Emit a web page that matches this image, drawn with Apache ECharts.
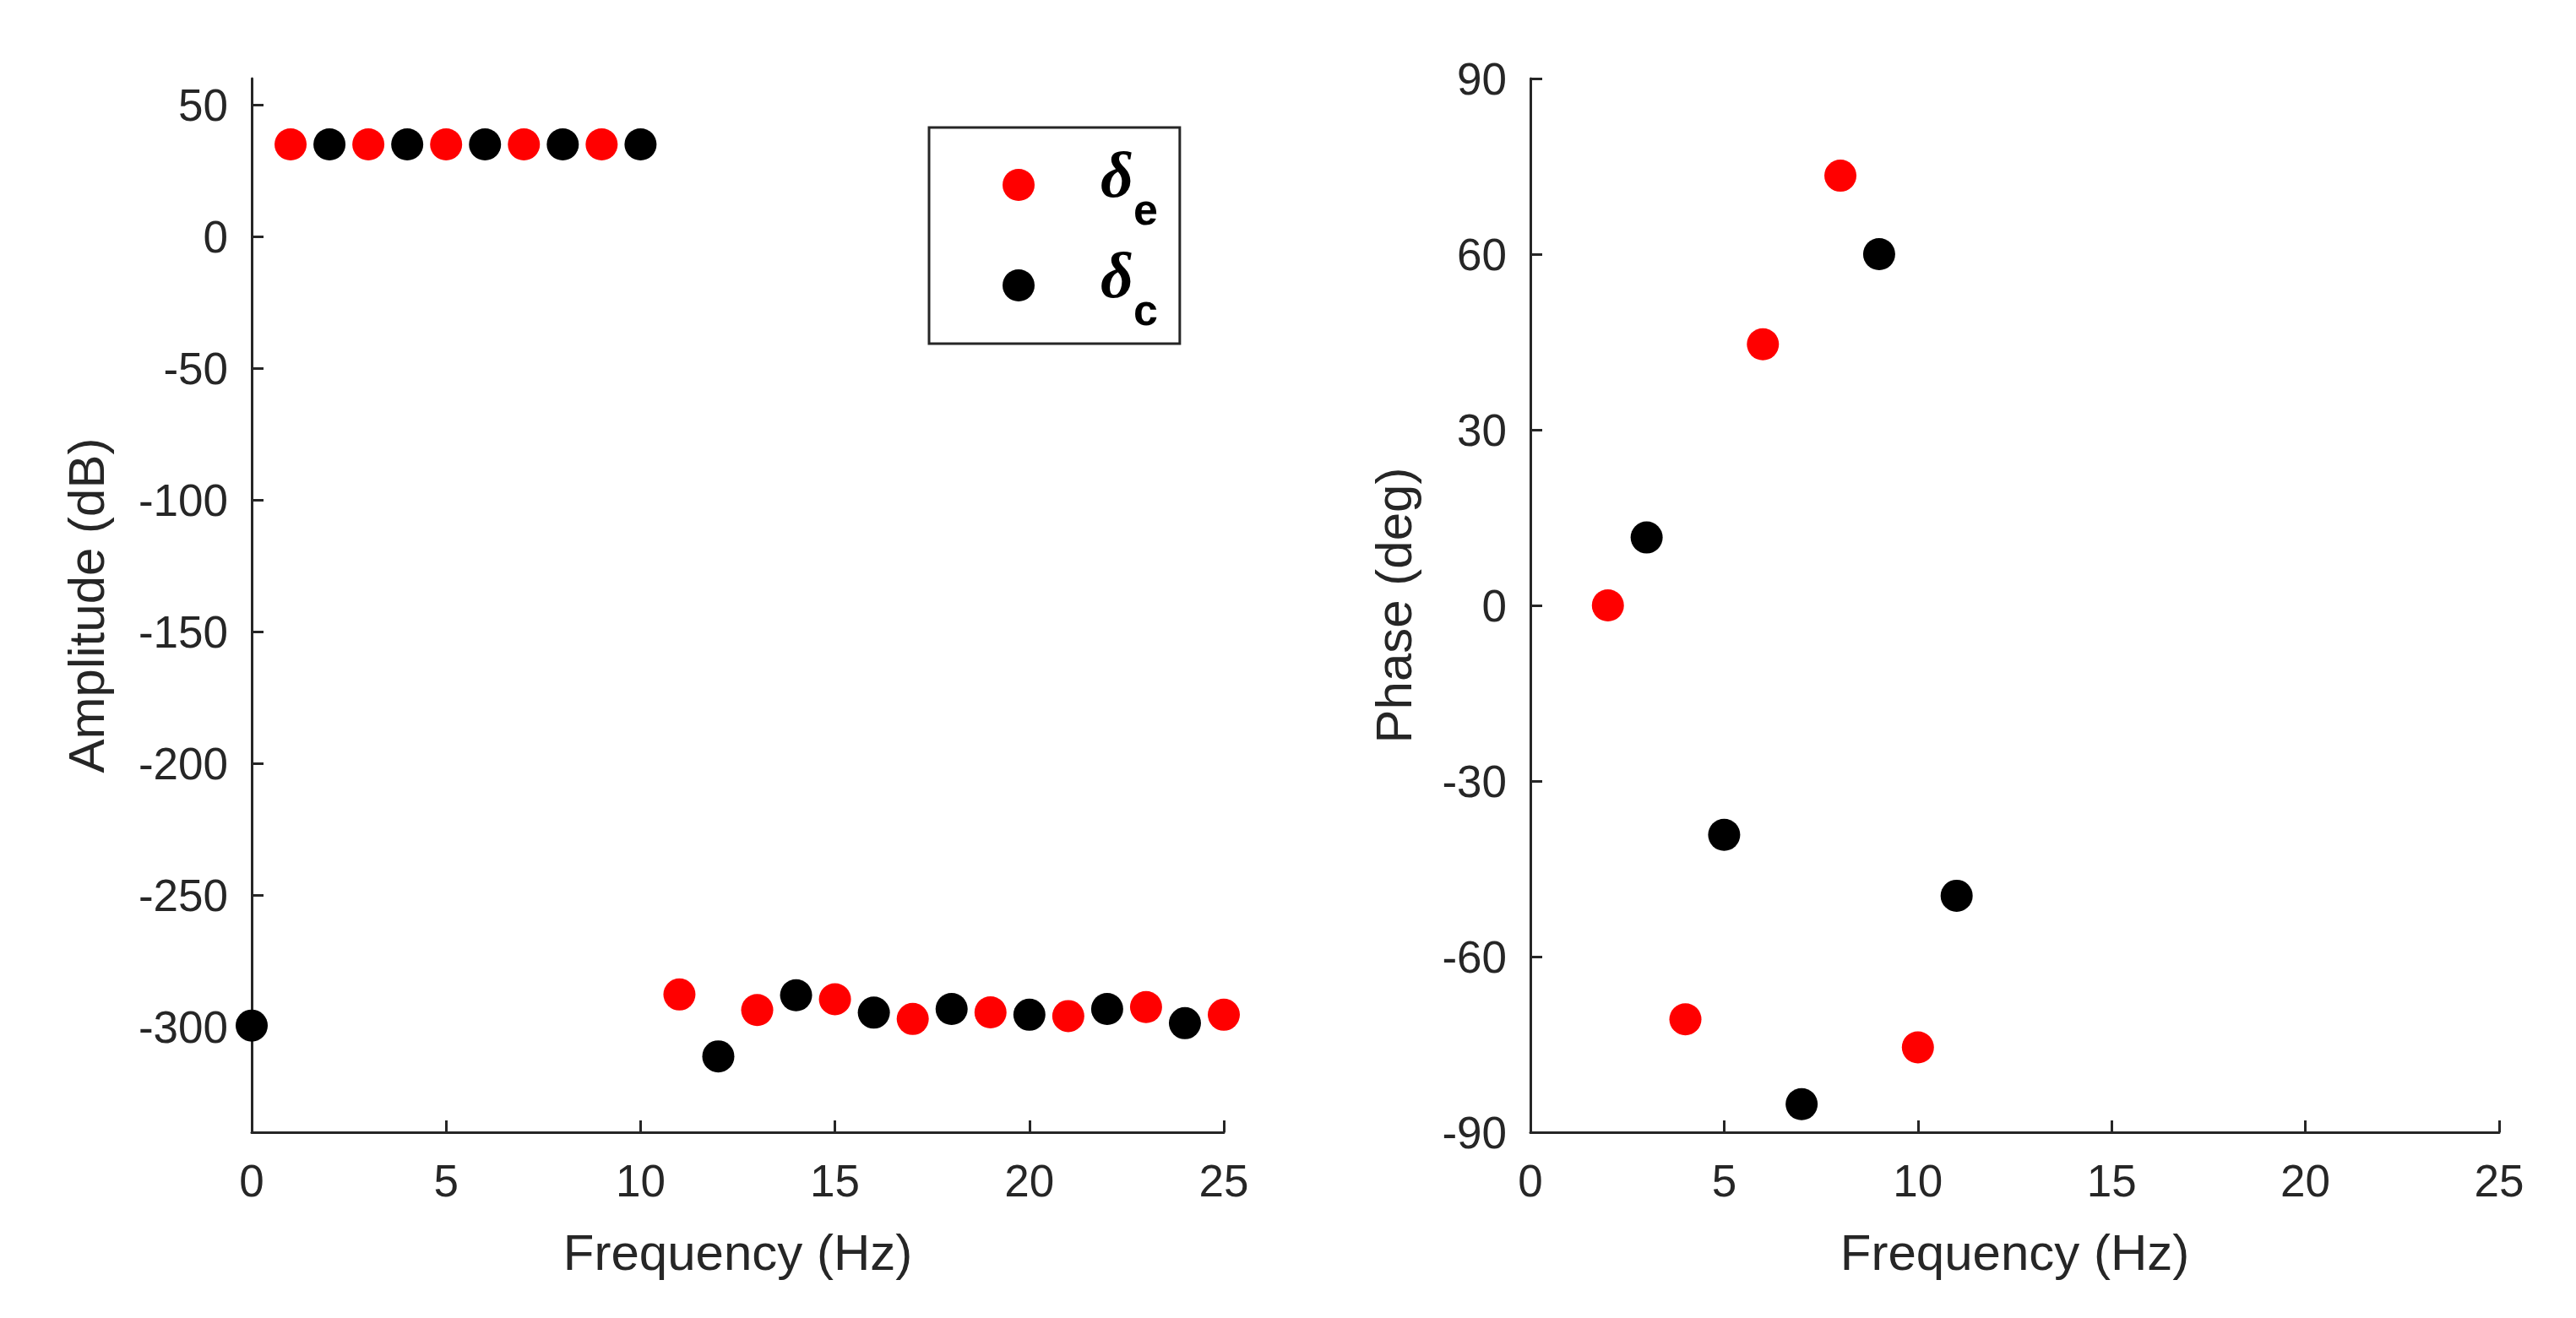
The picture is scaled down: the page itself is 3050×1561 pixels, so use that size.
<!DOCTYPE html>
<html>
<head>
<meta charset="utf-8">
<title>Amplitude and phase</title>
<script src="https://cdn.jsdelivr.net/npm/echarts@6/dist/echarts.min.js"></script>
<style>
  html, body { margin: 0; padding: 0; background: #fff; }
  #chart { width: 3050px; height: 1561px; }
</style>
</head>
<body>
<div id="chart"></div>
<script>
// frequencies (Hz) for each series
var freqE_amp = [1, 3, 5, 7, 9, 11, 13, 15, 17, 19, 21, 23, 25];
var freqC_amp = [0, 2, 4, 6, 8, 10, 12, 14, 16, 18, 20, 22, 24];
// amplitude (dB)
var ampE = [35, 35, 35, 35, 35, -287.7, -293.6, -289.5, -297, -294.5, -295.9, -292.5, -295.4];
var ampC = [-299.5, 35, 35, 35, 35, 35, -311.2, -288, -294.6, -293.2, -295.4, -293.2, -298.6];

var freqE_ph = [2, 4, 6, 8, 10];
var freqC_ph = [3, 5, 7, 9, 11];
// phase (deg)
var phaseE = [0, -70.7, 44.6, 73.4, -75.5];
var phaseC = [11.6, -39.2, -85.2, 60, -49.6];

// tick labels of the amplitude axis
var ampTicks = [-300, -250, -200, -150, -100, -50, 0, 50];

var axisColor = '#262626';
var font = 'Liberation Sans, Arial, Helvetica, sans-serif';

function pairs(xs, ys) {
  return xs.map(function (x, i) { return [x, ys[i]]; });
}

function xAxis(idx) {
  return {
    type: 'value', gridIndex: idx, min: 0, max: 25, interval: 5,
    name: 'Frequency (Hz)', nameLocation: 'middle', nameGap: 116,
    nameTextStyle: { fontFamily: font, fontSize: 60, color: axisColor },
    axisLine: { onZero: false, lineStyle: { color: axisColor, width: 3 } },
    axisTick: { inside: true, length: 14, lineStyle: { color: axisColor, width: 3 } },
    axisLabel: { margin: 35, fontFamily: font, fontSize: 53, color: axisColor },
    splitLine: { show: false }
  };
}

// y tick labels sit a little lower than the tick in the original
var yLabel = {
  margin: 28, fontFamily: font, fontSize: 53, color: axisColor,
  formatter: function (v) { return '{v|' + v + '}'; },
  rich: { v: { fontFamily: font, fontSize: 53, color: axisColor, padding: [8, 0, 0, 0] } }
};

var chart = echarts.init(document.getElementById('chart'));

chart.setOption({
  backgroundColor: '#fff',
  animation: false,
  grid: [
    { left: 298, top: 93, width: 1151, height: 1248 },
    { left: 1812, top: 93, width: 1147, height: 1248 }
  ],
  legend: {
    data: ['δe', 'δc'],
    orient: 'vertical',
    left: 1100,
    top: 151,
    padding: [9, 26, 10, 87],
    itemGap: 1,
    borderColor: axisColor,
    borderWidth: 3,
    icon: 'circle',
    itemWidth: 38,
    itemHeight: 38,
    itemStyle: { opacity: 1 },
    formatter: function (name) {
      return '{g|}{d|δ}{s|' + name.slice(1) + '}';
    },
    textStyle: {
      color: '#000',
      rich: {
        g: { width: 73 },
        d: { fontFamily: 'Liberation Serif, Times New Roman, serif', fontStyle: 'italic', fontWeight: 'bold', fontSize: 76, lineHeight: 76, padding: [0, 0, 12, 0], color: '#000' },
        s: { fontFamily: font, fontWeight: 'bold', fontSize: 52, lineHeight: 52, padding: [66, 0, 0, 0], color: '#000' }
      }
    }
  },
  xAxis: [xAxis(0), xAxis(1)],
  yAxis: [
    {
      type: 'value', gridIndex: 0, min: -340, max: 60,
      name: 'Amplitude (dB)', nameLocation: 'middle', nameGap: 162,
      nameTextStyle: { fontFamily: font, fontSize: 60, color: axisColor },
      axisLine: { show: true, lineStyle: { color: axisColor, width: 3 } },
      axisTick: { show: true, inside: true, length: 14, customValues: ampTicks, lineStyle: { color: axisColor, width: 3 } },
      axisLabel: Object.assign({ customValues: ampTicks }, yLabel),
      splitLine: { show: false }
    },
    {
      type: 'value', gridIndex: 1, min: -90, max: 90, interval: 30,
      name: 'Phase (deg)', nameLocation: 'middle', nameGap: 128,
      nameTextStyle: { fontFamily: font, fontSize: 60, color: axisColor },
      axisLine: { show: true, lineStyle: { color: axisColor, width: 3 } },
      axisTick: { show: true, inside: true, length: 14, lineStyle: { color: axisColor, width: 3 } },
      axisLabel: yLabel,
      splitLine: { show: false }
    }
  ],
  series: [
    { name: 'δe', type: 'scatter', xAxisIndex: 0, yAxisIndex: 0, symbolSize: 38, itemStyle: { color: '#ff0000', opacity: 1 }, data: pairs(freqE_amp, ampE) },
    { name: 'δc', type: 'scatter', xAxisIndex: 0, yAxisIndex: 0, symbolSize: 38, itemStyle: { color: '#000000', opacity: 1 }, data: pairs(freqC_amp, ampC) },
    { name: 'δe', type: 'scatter', xAxisIndex: 1, yAxisIndex: 1, symbolSize: 38, itemStyle: { color: '#ff0000', opacity: 1 }, data: pairs(freqE_ph, phaseE) },
    { name: 'δc', type: 'scatter', xAxisIndex: 1, yAxisIndex: 1, symbolSize: 38, itemStyle: { color: '#000000', opacity: 1 }, data: pairs(freqC_ph, phaseC) }
  ]
});
</script>
</body>
</html>
